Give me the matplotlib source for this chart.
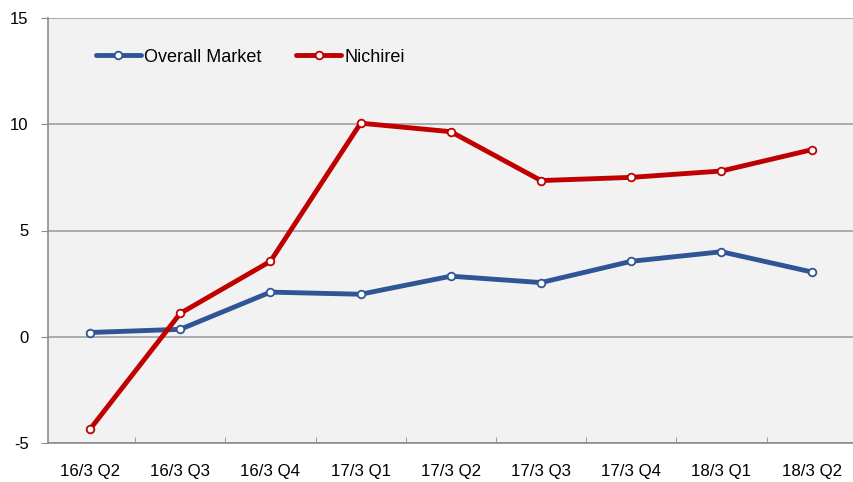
import matplotlib
matplotlib.use('Agg')
from matplotlib import pyplot as plt
import numpy as np

categories = ['16/3 Q2', '16/3 Q3', '16/3 Q4', '17/3 Q1', '17/3 Q2',
              '17/3 Q3', '17/3 Q4', '18/3 Q1', '18/3 Q2']
overall_market = [0.2, 0.35, 2.1, 2.0, 2.85, 2.55, 3.55, 4.0, 3.05]
nichirei = [-4.35, 1.1, 3.55, 10.05, 9.65, 7.35, 7.5, 7.8, 8.8]

plt.rcParams['font.family'] = ['Liberation Sans', 'DejaVu Sans']
plt.rcParams['axes.unicode_minus'] = False

fig = plt.figure(figsize=(8.54, 4.82), dpi=100)
ax = fig.add_axes([48 / 854, 39 / 482, 1 - 48 / 854, 425 / 482])
ax.set_facecolor('#f2f2f2')

x = np.arange(len(categories))
ax.plot(x, overall_market, color='#2f5597', lw=3.5, marker='o', ms=5.5,
        mfc='white', mec='#2f5597', mew=1.3, label='Overall Market', zorder=3,
        solid_capstyle='round')
ax.plot(x, nichirei, color='#c00000', lw=3.5, marker='o', ms=5.5,
        mfc='white', mec='#c00000', mew=1.3, label='Nichirei', zorder=3,
        solid_capstyle='round')

ax.set_ylim(-5, 15)
ax.set_yticks([-5, 0, 5, 10, 15])
ax.set_xlim(-0.466, 8.47)
ax.set_xticks(x)
ax.set_xticklabels(categories)
ax.set_xticks(x[:-1] + 0.5, minor=True)
ax.tick_params(axis='x', which='major', length=0, pad=15, labelsize=12.2)
ax.tick_params(axis='x', which='minor', direction='in', length=4, color='#8c8c8c')
ax.tick_params(axis='y', length=5, color='#8c8c8c', labelsize=12, pad=9)

ax.grid(axis='y', color='#a0a0a0', lw=1.2)
ax.set_axisbelow(True)
for side in ['top', 'right']:
    ax.spines[side].set_visible(False)
for side in ['left', 'bottom']:
    ax.spines[side].set_color('#8c8c8c')
    ax.spines[side].set_linewidth(1.2)

ax.legend(loc='center left', bbox_to_anchor=(0.048, 0.908), ncol=2, frameon=False,
          fontsize=13, handlelength=2.5, handletextpad=0.2, columnspacing=1.9,
          borderpad=0)

fig.savefig('out.png', dpi=100)
